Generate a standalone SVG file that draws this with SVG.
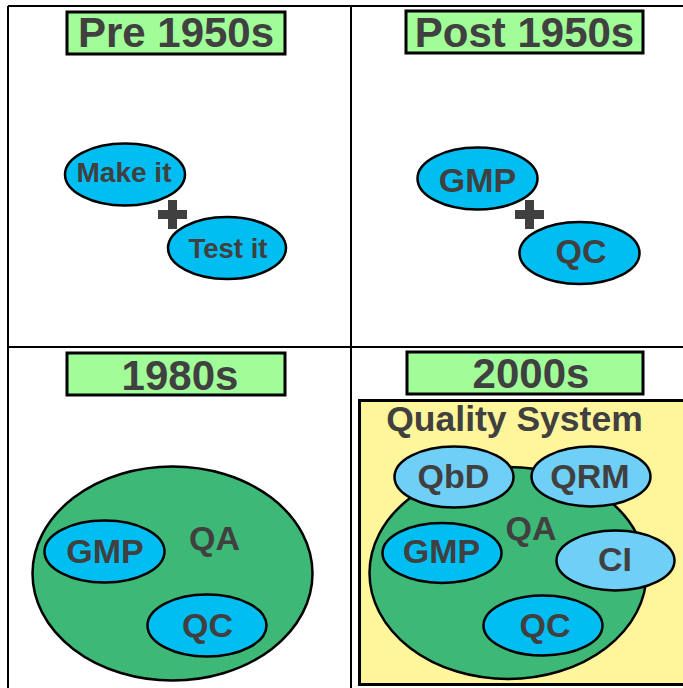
<svg xmlns="http://www.w3.org/2000/svg" width="683" height="688" viewBox="0 0 683 688">
<style>
text{font-family:"Liberation Sans",Arial,sans-serif;font-weight:bold;fill:#404040;text-anchor:middle}
.grid{stroke:#000;stroke-width:2;fill:none}
.title{fill:#a0fd98;stroke:#000;stroke-width:3}
.blue{fill:#00bef2;stroke:#000;stroke-width:2.5}
.lblue{fill:#6fcff6;stroke:#000;stroke-width:2.5}
.green{fill:#3db876;stroke:#000;stroke-width:2.5}
.plus{fill:#404040}
.t42{font-size:42px}
.t34{font-size:34px}
</style>
<rect width="683" height="688" fill="#fff"/>
<g id="grid">
<line class="grid" x1="8" y1="6" x2="683" y2="6"/>
<line class="grid" x1="8" y1="6" x2="8" y2="688"/>
<line class="grid" x1="351" y1="6" x2="351" y2="688"/>
<line class="grid" x1="8" y1="347" x2="683" y2="347"/>
</g>

<g id="panel-pre1950s">
<g id="title-pre"><rect class="title" x="67" y="12" width="218" height="42"/><text class="t42" x="176" y="47">Pre 1950s</text></g>
<g id="make-it"><ellipse class="blue" cx="125" cy="174.5" rx="60" ry="31"/><text x="124" y="182" font-size="28">Make it</text></g>
<g id="plus-1"><rect class="plus" x="158" y="210" width="29" height="9"/><rect class="plus" x="168" y="200" width="9" height="29"/></g>
<g id="test-it"><ellipse class="blue" cx="227" cy="248" rx="59" ry="31"/><text x="228" y="258" font-size="27.5">Test it</text></g>
</g>

<g id="panel-post1950s">
<g id="title-post"><rect class="title" x="406" y="11" width="237" height="42"/><text class="t42" x="524.5" y="47">Post 1950s</text></g>
<g id="gmp-post"><ellipse class="blue" cx="477.5" cy="178.5" rx="60" ry="31"/><text class="t34" x="477.5" y="192">GMP</text></g>
<g id="plus-2"><rect class="plus" x="515" y="210" width="29" height="9"/><rect class="plus" x="525" y="200" width="9" height="29"/></g>
<g id="qc-post"><ellipse class="blue" cx="579.5" cy="253" rx="60" ry="31"/><text class="t34" x="581" y="263">QC</text></g>
</g>

<g id="panel-1980s">
<g id="title-1980"><rect class="title" x="67" y="353" width="218" height="42"/><text class="t42" x="180" y="389.5">1980s</text></g>
<g id="qa-1980"><ellipse class="green" cx="172.5" cy="573.5" rx="140" ry="107"/><text class="t34" x="214.5" y="550">QA</text></g>
<g id="gmp-1980"><ellipse class="blue" cx="104.5" cy="551.5" rx="60" ry="31"/><text class="t34" x="105" y="563">GMP</text></g>
<g id="qc-1980"><ellipse class="blue" cx="207" cy="625.5" rx="59.5" ry="31"/><text class="t34" x="207.5" y="637">QC</text></g>
</g>

<g id="panel-2000s">
<g id="title-2000"><rect class="title" x="407" y="352" width="236" height="42"/><text class="t42" x="531" y="388">2000s</text></g>
<g id="quality-system"><rect x="359.5" y="400.5" width="330" height="284" fill="#fff59a" stroke="#000" stroke-width="3"/><text x="514.5" y="431" font-size="35.5">Quality System</text></g>
<g id="qa-2000"><ellipse class="green" cx="508" cy="573" rx="138.5" ry="106"/><text class="t34" x="531" y="540">QA</text></g>
<g id="qbd"><ellipse class="lblue" cx="454" cy="477" rx="59.5" ry="30.5"/><text class="t34" x="453.5" y="488">QbD</text></g>
<g id="qrm"><ellipse class="lblue" cx="591" cy="476.5" rx="59.5" ry="30"/><text class="t34" x="590" y="488">QRM</text></g>
<g id="gmp-2000"><ellipse class="blue" cx="442" cy="553" rx="59.5" ry="30"/><text class="t34" x="441.5" y="563">GMP</text></g>
<g id="ci"><ellipse class="lblue" cx="615.5" cy="560.5" rx="59" ry="30"/><text class="t34" x="615" y="571">CI</text></g>
<g id="qc-2000"><ellipse class="blue" cx="543" cy="625.5" rx="59.5" ry="30"/><text class="t34" x="545" y="637">QC</text></g>
</g>
</svg>
